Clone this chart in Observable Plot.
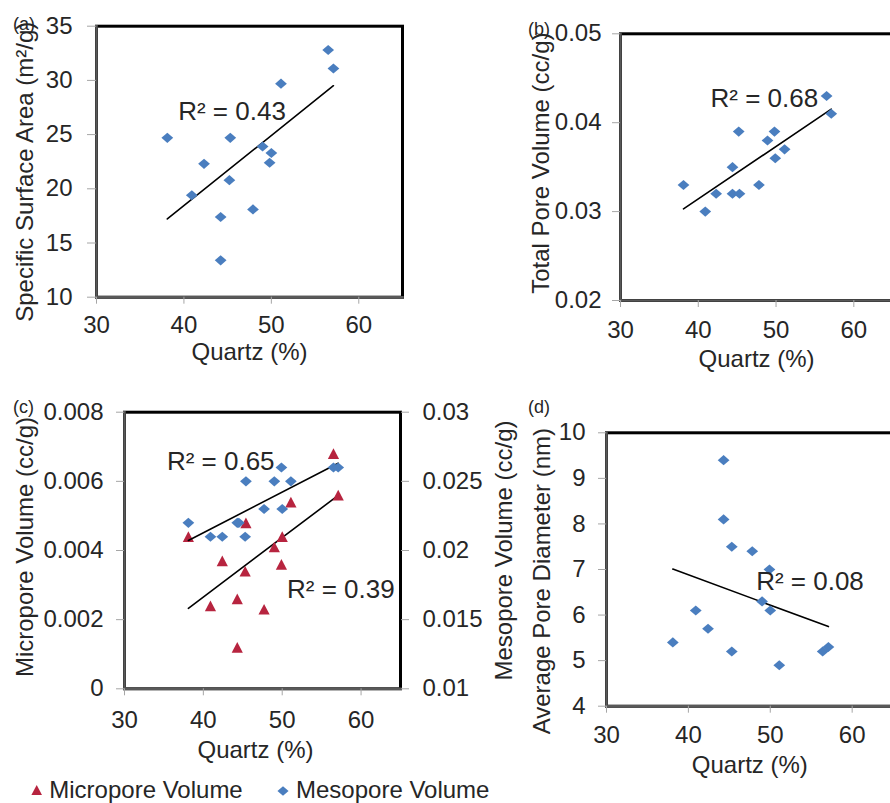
<!DOCTYPE html>
<html>
<head>
<meta charset="utf-8">
<script src="https://cdn.jsdelivr.net/npm/d3@7"></script>
<script src="https://cdn.jsdelivr.net/npm/@observablehq/plot@0.6"></script>
<style>
html, body { margin: 0; padding: 0; background: #fff; }
#fig { position: relative; width: 890px; height: 803px; overflow: hidden; background: #fff; }
</style>
</head>
<body>
<div id="fig"></div>
<script>
// ---------- data ----------
const quartzTicks = [30, 40, 50, 60];

// (a) Specific surface area
const quartzA = [56.5, 57.1, 51.1, 38.1, 45.3, 49.0, 50.0, 49.8, 42.3, 45.2, 40.9, 47.9, 44.2, 44.2];
const ssaA    = [32.8, 31.1, 29.7, 24.7, 24.7, 23.9, 23.3, 22.4, 22.3, 20.8, 19.4, 18.1, 17.4, 13.4];
const ssaTicks = [10, 15, 20, 25, 30, 35];

// (b) Total pore volume
const quartzB = [56.5, 57.1, 45.2, 49.8, 48.9, 51.1, 49.9, 44.4, 38.1, 47.8, 42.3, 44.4, 45.3, 40.9];
const tpvB    = [0.043, 0.041, 0.039, 0.039, 0.038, 0.037, 0.036, 0.035, 0.033, 0.033, 0.032, 0.032, 0.032, 0.030];
const tpvTicks = [0.02, 0.03, 0.04, 0.05];

// (c) Micropore (left axis) and mesopore (right axis) volume
const quartzMicro = [56.5, 57.1, 51.1, 45.4, 38.1, 50.0, 49.0, 42.4, 49.9, 45.3, 44.3, 40.9, 47.7, 44.3];
const microC      = [0.0068, 0.0056, 0.0054, 0.0048, 0.0044, 0.0044, 0.0041, 0.0037, 0.0036, 0.0034, 0.0026, 0.0024, 0.0023, 0.0012];
const quartzMeso  = [56.5, 57.1, 49.9, 45.4, 49.0, 51.1, 47.7, 50.0, 38.1, 44.3, 44.5, 40.9, 42.4, 45.3];
const mesoC       = [0.026, 0.026, 0.026, 0.025, 0.025, 0.025, 0.023, 0.023, 0.022, 0.022, 0.022, 0.021, 0.021, 0.021];
const microTicks = [0, 0.002, 0.004, 0.006, 0.008];
const mesoTicks  = [0.01, 0.015, 0.02, 0.025, 0.03];

// (d) Average pore diameter
const quartzD = [44.3, 44.3, 45.3, 47.8, 49.9, 49.0, 50.0, 40.9, 42.4, 38.1, 45.3, 51.1, 56.4, 57.1];
const apdD    = [9.4, 8.1, 7.5, 7.4, 7.0, 6.3, 6.1, 6.1, 5.7, 5.4, 5.2, 4.9, 5.2, 5.3];
const apdTicks = [4, 5, 6, 7, 8, 9, 10];

const r2Labels = ["R² = 0.43", "R² = 0.68", "R² = 0.65", "R² = 0.39", "R² = 0.08"];
const legendLabels = ["Micropore Volume", "Mesopore Volume"];
const panelTags = ["(a)", "(b)", "(c)", "(d)"];

// ---------- styles ----------
const FONT = '"Liberation Sans", Arial, Helvetica, sans-serif';
const BLUE = "#4A7EBF";
const RED = "#B7243F";
const AXIS = "#595959";
const TICK = "#A6A6A6";
const TEXT = "#262626";

const diamondSym = {draw(ctx, size) {
  const r = Math.sqrt(size / Math.PI), w = r * 1.05, h = r * 0.9;
  ctx.moveTo(0, -h); ctx.lineTo(w, 0); ctx.lineTo(0, h); ctx.lineTo(-w, 0); ctx.closePath();
}};
const triangleSym = {draw(ctx, size) {
  const r = Math.sqrt(size / Math.PI), w = r * 1.0, h = r * 0.95;
  ctx.moveTo(0, -h); ctx.lineTo(w, h); ctx.lineTo(-w, h); ctx.closePath();
}};

const fig = document.getElementById("fig");
const zip = (xs, ys) => xs.map((q, i) => ({q, v: ys[i]}));
const fmt = d => String(d);

function place(svg, left, top) {
  svg.style.position = "absolute";
  svg.style.left = left + "px";
  svg.style.top = top + "px";
  svg.style.maxWidth = "none";
  fig.appendChild(svg);
}

function panel({left, top, width, height, ml, mr, mt, mb, yDomain, yTicks, ySize = 8, yPad = 13,
                xPad = 12, yLabel, yLabelDx, yLabelDy = 0, xLabelDy, xLabelDx = 0, data, sym, color, r2}) {
  const svg = Plot.plot({
    width, height,
    marginLeft: ml, marginRight: mr, marginTop: mt, marginBottom: mb,
    x: {domain: [30, 65]},
    y: {domain: yDomain},
    style: {fontFamily: FONT, fontSize: "24px", background: "transparent", overflow: "visible", color: TEXT},
    marks: [
      Plot.frame({stroke: "black", strokeWidth: 3}),
      Plot.frame({anchor: "left", stroke: AXIS, strokeWidth: 2.5}),
      Plot.frame({anchor: "bottom", stroke: AXIS, strokeWidth: 2.5}),
      Plot.axisX(quartzTicks, {anchor: "bottom", tickSize: 7, tickPadding: xPad, stroke: TICK, fill: TEXT, label: null, tickFormat: fmt}),
      Plot.axisY(yTicks, {anchor: "left", tickSize: ySize, tickPadding: yPad, stroke: TICK, fill: TEXT, label: null, tickFormat: fmt}),
      Plot.text([yLabel], {text: d => d, frameAnchor: "left", textAnchor: "middle", rotate: -90, lineAnchor: "top", dx: -yLabelDx, dy: yLabelDy, fill: TEXT, fontSize: 24}),
      Plot.text(["Quartz (%)"], {text: d => d, frameAnchor: "bottom", textAnchor: "middle", lineAnchor: "bottom", dx: xLabelDx, dy: xLabelDy, fill: TEXT, fontSize: 24}),
      Plot.linearRegressionY(data, {x: "q", y: "v", stroke: "black", strokeWidth: 1.6, ci: 0}),
      Plot.dot(data, {x: "q", y: "v", symbol: sym, r: 5.6, fill: color}),
      ...r2.map(a => Plot.text([a], {x: "x", y: "y", text: "t", fill: TEXT, fontSize: 26}))
    ]
  });
  place(svg, left, top);
}

// (a)
panel({left: 0, top: 0, width: 445, height: 390, ml: 96, mr: 43, mt: 25.7, mb: 93.3,
  yDomain: [10, 35], yTicks: ssaTicks, ySize: 9, yPad: 15, xPad: 12,
  yLabel: "Specific Surface Area (m²/g)", yLabelDx: 81, yLabelDy: 10, xLabelDy: 63,
  data: zip(quartzA, ssaA), sym: diamondSym, color: BLUE,
  r2: [{t: r2Labels[0], x: 45.5, y: 27.1}]});

// (b)
panel({left: 445, top: 0, width: 460, height: 390, ml: 175, mr: 12.8, mt: 33.3, mb: 90,
  yDomain: [0.02, 0.05], yTicks: tpvTicks, ySize: 8, yPad: 11, xPad: 13,
  yLabel: "Total Pore Volume (cc/g)", yLabelDx: 89, yLabelDy: -4, xLabelDy: 66,
  data: zip(quartzB, tpvB), sym: diamondSym, color: BLUE,
  r2: [{t: r2Labels[1], x: 48.5, y: 0.04267}]});

// (c) micropore, left axis
panel({left: 0, top: 380, width: 520, height: 423, ml: 124, mr: 120, mt: 31.7, mb: 114.7,
  yDomain: [0, 0.008], yTicks: microTicks, ySize: 8, yPad: 13, xPad: 15,
  yLabel: "Micropore Volume (cc/g)", yLabelDx: 109, yLabelDy: -3.5, xLabelDy: 69, xLabelDx: -7,
  data: zip(quartzMicro, microC), sym: triangleSym, color: RED,
  r2: [{t: r2Labels[2], x: 42.2, y: 0.00657}, {t: r2Labels[3], x: 57.44, y: 0.00288}]});

// (c) mesopore, right axis overlay
{
  const data = zip(quartzMeso, mesoC);
  const svg = Plot.plot({
    width: 520, height: 423,
    marginLeft: 124, marginRight: 120, marginTop: 31.7, marginBottom: 114.7,
    x: {domain: [30, 65], axis: null},
    y: {domain: [0.01, 0.03]},
    style: {fontFamily: FONT, fontSize: "24px", background: "transparent", overflow: "visible", color: TEXT},
    marks: [
      Plot.axisY(mesoTicks, {anchor: "right", tickSize: 8, tickPadding: 14, stroke: TICK, fill: TEXT, label: null, tickFormat: fmt}),
      Plot.text(["Mesopore Volume (cc/g)"], {text: d => d, frameAnchor: "right", textAnchor: "middle", rotate: -90, lineAnchor: "bottom", dx: 111, fill: TEXT, fontSize: 24}),
      Plot.linearRegressionY(data, {x: "q", y: "v", stroke: "black", strokeWidth: 1.6, ci: 0}),
      Plot.dot(data, {x: "q", y: "v", symbol: diamondSym, r: 5.6, fill: BLUE})
    ]
  });
  place(svg, 0, 380);
}

// (d)
panel({left: 480, top: 380, width: 420, height: 423, ml: 126, mr: 7.4, mt: 52.3, mb: 97.3,
  yDomain: [4, 10], yTicks: apdTicks, ySize: 8, yPad: 13, xPad: 13,
  yLabel: "Average Pore Diameter (nm)", yLabelDx: 74, yLabelDy: 11.7, xLabelDy: 67,
  data: zip(quartzD, apdD), sym: diamondSym, color: BLUE,
  r2: [{t: r2Labels[4], x: 54.85, y: 6.74}]});

// ---------- panel tags and legend ----------
{
  const ov = d3.create("svg").attr("width", 890).attr("height", 803)
    .style("position", "absolute").style("left", "0px").style("top", "0px")
    .style("font-family", FONT).style("fill", TEXT);
  const tagPos = [[13, 29.5], [528, 34.5], [13, 413], [528, 413]];
  panelTags.forEach((t, i) => ov.append("text").attr("x", tagPos[i][0]).attr("y", tagPos[i][1])
    .attr("font-size", 18).text(t));
  const tri = d3.path(); triangleSym.draw(tri, Math.PI * 5.3 * 5.3);
  const dia = d3.path(); diamondSym.draw(dia, Math.PI * 5.3 * 5.3);
  ov.append("path").attr("d", tri.toString()).attr("transform", "translate(36.7,790)").attr("fill", RED);
  ov.append("text").attr("x", 49.3).attr("y", 798).attr("font-size", 24).text(legendLabels[0]);
  ov.append("path").attr("d", dia.toString()).attr("transform", "translate(283,791)").attr("fill", BLUE);
  ov.append("text").attr("x", 296).attr("y", 798).attr("font-size", 24).text(legendLabels[1]);
  fig.appendChild(ov.node());
}
</script>
</body>
</html>
